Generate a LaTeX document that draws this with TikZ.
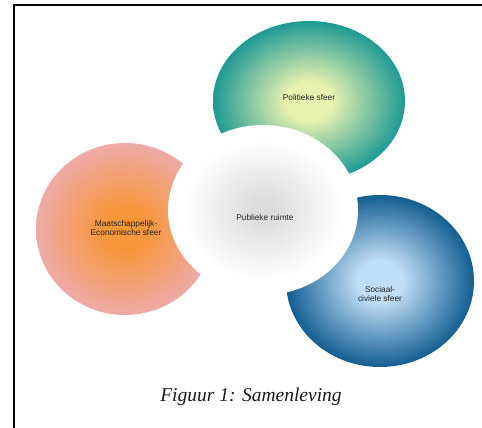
\documentclass[tikz,border=0pt]{standalone}
\usepackage{fontspec}
\setmainfont{Liberation Serif}
\newfontfamily\labfont{Liberation Sans}
\usetikzlibrary{shapes.geometric}
\definecolor{polout}{HTML}{1E9A94}
\definecolor{polin}{HTML}{E8F2B0}
\definecolor{maaout}{HTML}{EDAAA8}
\definecolor{maain}{HTML}{F8963A}
\definecolor{socout}{HTML}{135E92}
\definecolor{socin}{HTML}{C0DEF6}
\definecolor{pubin}{HTML}{DCDCDC}
\definecolor{labcol}{HTML}{222222}
\pgfdeclareradialshading{polshade}{\pgfpoint{0bp}{0bp}}{color(0bp)=(polin); color(6bp)=(polin); color(25bp)=(polout); color(50bp)=(polout)}
\pgfdeclareradialshading{maashade}{\pgfpoint{0bp}{0bp}}{color(0bp)=(maain); color(6bp)=(maain); color(25bp)=(maaout); color(50bp)=(maaout)}
\pgfdeclareradialshading{socshade}{\pgfpoint{0bp}{0bp}}{color(0bp)=(socin); color(6bp)=(socin); color(25bp)=(socout); color(50bp)=(socout)}
\pgfdeclareradialshading{pubshade}{\pgfpoint{0bp}{0bp}}{color(0bp)=(pubin); color(3bp)=(pubin); color(22bp)=(white); color(50bp)=(white)}
\tikzset{
  sphere/.style={ellipse, inner sep=0pt},
  lab/.style={font=\labfont\fontsize{8.3}{9.6}\selectfont, text=labcol, align=center, inner sep=0pt},
}
\begin{document}
\begin{tikzpicture}[x=1pt,y=-1pt]
\useasboundingbox (0,0) rectangle (482,428);
\fill[white] (0,0) rectangle (482,428);
\draw[line width=2pt] (482,5) -- (14,5) -- (14,428);
\node[sphere, minimum width=192pt, minimum height=160pt, shading=polshade] (pol) at (309,101) {};
\node[sphere, minimum width=178pt, minimum height=172pt, shading=maashade] (maa) at (125,229) {};
\node[sphere, minimum width=188pt, minimum height=172pt, shading=socshade] (soc) at (380,281) {};
\node[sphere, minimum width=180pt, minimum height=160pt, shading=pubshade, draw=white, line width=10pt] (pub) at (263,210) {};
\node[lab] (polt) at (309,98) {Politieke sfeer};
\node[lab] (maat) at (126,228) {Maatschappelijk-\\Economische sfeer};
\node[lab] (soct) at (380,294) {Sociaal-\\civiele sfeer};
\node[lab] (pubt) at (265,218) {Publieke ruimte};
\node[font=\itshape\fontsize{19.5}{22}\selectfont, text=black!90] (cap) at (251,397) {Figuur 1: Samenleving};
\end{tikzpicture}
\end{document}
